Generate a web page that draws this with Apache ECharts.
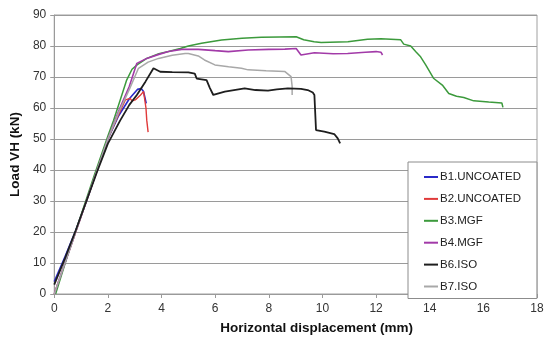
<!DOCTYPE html>
<html>
<head>
<meta charset="utf-8">
<script src="https://cdn.jsdelivr.net/npm/echarts@6/dist/echarts.min.js"></script>
<style>html,body{margin:0;padding:0;background:#fff}#c{width:550px;height:342px}</style>
</head>
<body>
<div id="c"></div>
<script>
var xTicks = [0, 2, 4, 6, 8, 10, 12, 14, 16, 18];
var yTicks = [0, 10, 20, 30, 40, 50, 60, 70, 80, 90];
var seriesNames = ['B1.UNCOATED', 'B2.UNCOATED', 'B3.MGF', 'B4.MGF', 'B6.ISO', 'B7.ISO'];

var b1 = [[0,4],[0.4,12],[0.8,20.5],[1.2,30],[1.6,40],[2.0,50],[2.4,57.5],[2.8,63],[3.1,66],[3.24,66.3],[3.33,65.3],[3.39,63],[3.43,61.5]];
var b2 = [[0,0],[0.4,10],[0.8,20],[1.2,30],[1.6,40],[2.0,50],[2.3,56],[2.65,62.6],[2.83,63.1],[2.9,62.3],[3.02,62.6],[3.2,64],[3.33,65.3],[3.39,65.8],[3.42,60],[3.45,56],[3.5,52.2]];
var b3 = [[0.05,0],[0.5,12.5],[1.0,25.5],[1.5,38.5],[2.0,51],[2.21,56],[2.46,62.6],[2.7,69],[2.9,72.5],[3.1,74],[3.45,76],[3.9,77.5],[4.26,78.2],[4.7,79.2],[5.0,80],[5.49,80.9],[6.24,81.9],[7.0,82.5],[7.72,82.8],[8.4,82.9],[9.02,83],[9.3,82],[9.69,81.4],[9.95,81.1],[10.95,81.4],[11.68,82.2],[12.18,82.3],[12.92,82.0],[13.03,80.6],[13.29,80],[13.5,78],[13.66,76.5],[13.85,73.9],[14.14,69.6],[14.47,67.4],[14.71,64.7],[15.0,63.8],[15.27,63.4],[15.64,62.3],[16.2,61.9],[16.69,61.6],[16.73,60.2]];
var b4 = [[0,0],[0.4,10],[0.8,20],[1.2,30],[1.6,40],[2.0,50],[2.4,59],[2.8,67],[3.08,74.4],[3.45,76],[3.9,77.3],[4.26,78.2],[4.75,78.9],[5.37,78.9],[6.0,78.5],[6.49,78.2],[7.23,78.7],[8.0,78.9],[8.6,79],[9.02,79.2],[9.2,77.1],[9.7,77.8],[10.4,77.5],[10.94,77.6],[11.6,78],[12.0,78.2],[12.18,78.0],[12.24,77.1]];
var b6 = [[0,3],[0.4,11.5],[0.8,20.5],[1.2,30],[1.6,39.5],[2.0,48.5],[2.46,56],[2.8,61],[3.08,64.2],[3.4,68.5],[3.7,72.8],[3.95,71.7],[4.4,71.6],[5.0,71.5],[5.24,71.1],[5.31,69.5],[5.68,69],[5.8,66.5],[5.93,64.2],[6.36,65.3],[7.1,66.3],[7.5,65.8],[7.97,65.6],[8.3,66],[8.71,66.3],[9.2,66.2],[9.45,65.8],[9.64,65],[9.7,64.2],[9.76,52.9],[10.07,52.4],[10.44,51.6],[10.57,50.2],[10.66,48.6]];
var b7 = [[0,0],[0.4,10],[0.8,20],[1.2,30],[1.6,40],[2.0,50],[2.4,58.5],[2.8,66],[3.14,72.8],[3.5,74.8],[3.89,76],[4.4,77],[4.88,77.6],[5.0,77.6],[5.37,76.8],[5.6,75.5],[5.99,73.9],[6.5,73.3],[6.98,72.8],[7.23,72.3],[7.9,72],[8.59,71.8],[8.83,70.1],[8.87,67],[8.87,64.2]];

var dataSets = [b1, b2, b3, b4, b6, b7];
var colors = ['#2a2ac8', '#e03a3a', '#3c9a3c', '#a23aa8', '#1e1e1e', '#a8a8a8'];
var widths = [1.6, 1.4, 1.5, 1.6, 1.8, 1.5];
var font = '"Liberation Sans", Arial, sans-serif';

var chart = echarts.init(document.getElementById('c'));
chart.setOption({
  animation: false,
  color: colors,
  grid: { left: 52, right: 13, top: 15, bottom: 48, show: true, borderColor: '#a0a0a0', borderWidth: 1, backgroundColor: 'transparent' },
  xAxis: {
    type: 'value', min: xTicks[0], max: xTicks[xTicks.length - 1], interval: 2,
    name: 'Horizontal displacement (mm)', nameLocation: 'middle', nameGap: 27,
    nameTextStyle: { fontFamily: font, fontWeight: 'bold', fontSize: 13.5, color: '#111', padding: [0, 0, 0, 42] },
    axisLine: { show: true, lineStyle: { color: '#9a9a9a', width: 1 } },
    axisTick: { show: true, length: 4, lineStyle: { color: '#9a9a9a' } },
    axisLabel: { fontFamily: font, fontSize: 12, color: '#333', margin: 9 },
    splitLine: { show: false }
  },
  yAxis: {
    type: 'value', min: yTicks[0], max: yTicks[yTicks.length - 1], interval: 10,
    name: 'Load VH (kN)', nameLocation: 'middle', nameGap: 31,
    nameTextStyle: { fontFamily: font, fontWeight: 'bold', fontSize: 13.5, color: '#111' },
    axisLine: { show: true, lineStyle: { color: '#9a9a9a', width: 1 } },
    axisTick: { show: true, length: 4, lineStyle: { color: '#9a9a9a' } },
    axisLabel: { fontFamily: font, fontSize: 12, color: '#333', margin: 8 },
    splitLine: { show: true, lineStyle: { color: '#9a9a9a', width: 1 } }
  },
  legend: {
    orient: 'vertical', left: 408, top: 162,
    backgroundColor: '#fff', borderColor: '#8c8c8c', borderWidth: 1,
    padding: [9, 16, 6, 16], itemGap: 9.9, itemWidth: 14, itemHeight: 2, icon: 'rect',
    textStyle: { fontFamily: font, fontSize: 11.5, color: '#222', padding: [0, 0, 0, -3] },
    data: seriesNames
  },
  series: dataSets.map(function (d, i) {
    return {
      name: seriesNames[i], type: 'line', data: d, symbol: 'none', smooth: false,
      lineStyle: { width: widths[i], color: colors[i] }, z: 2 + (i === 4 ? 1 : 0)
    };
  })
});
</script>
</body>
</html>
